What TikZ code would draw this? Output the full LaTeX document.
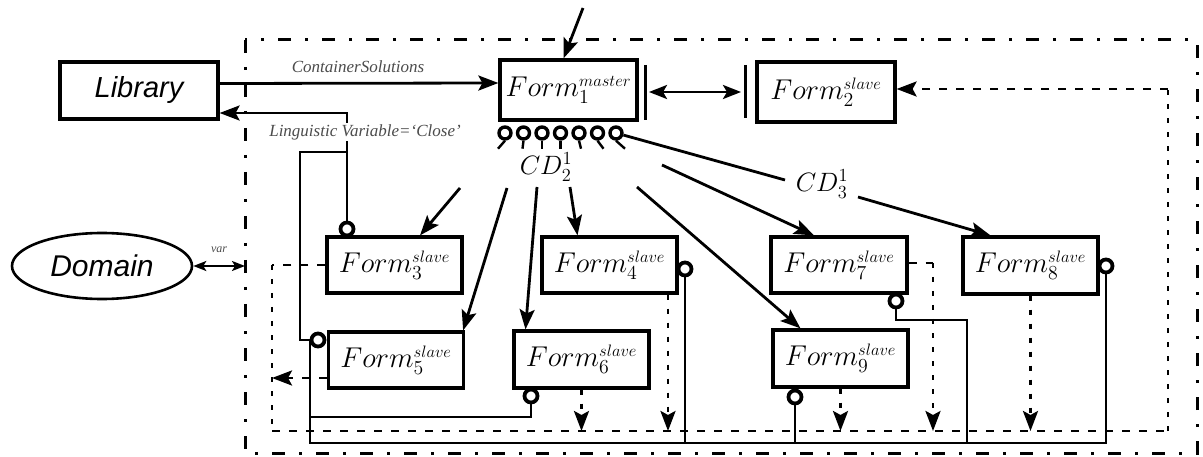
\documentclass[tikz,border=0pt]{standalone}
\usepackage{fontspec}
\usetikzlibrary{arrows.meta,calc,shapes.geometric}
\newfontfamily\arialf{Liberation Sans}
\newfontfamily\timesf{Liberation Serif}
\newcommand\formlab[2]{\fontsize{20.74}{24}\selectfont\scalebox{1.38}{$Form_{#1}^{\scriptscriptstyle #2}$}}
\newcommand\cdlab[2]{\fontsize{20.74}{24}\selectfont\scalebox{1.28}{$CD_{#1}^{#2}$}}
\begin{document}
\begin{tikzpicture}[x=1pt,y=-1pt,
  box/.style={draw,line width=3.2pt,inner sep=0pt},
  fbox/.style={box,minimum width=135pt,minimum height=56pt},
  ln/.style={line width=2.8pt},
  tip/.style={-{Stealth[length=20pt,width=15pt,inset=4pt]}},
  arr/.style={ln,tip},
  darr/.style={ln,{Stealth[length=18pt,width=14pt,inset=4pt]}-{Stealth[length=18pt,width=14pt,inset=4pt]}},
  sdarr/.style={line width=2pt,{Stealth[length=13pt,width=10pt,inset=3pt]}-{Stealth[length=13pt,width=10pt,inset=3pt]}},
  bus/.style={line width=2.8pt,dash pattern=on 8pt off 9pt},
  dotl/.style={line width=2.8pt,dash pattern=on 5pt off 9pt},
  oport/.style={circle,draw,line width=3.8pt,fill=white,minimum size=13pt,inner sep=0pt},
  frame/.style={line width=3pt,dash pattern=on 13pt off 14pt on 3pt off 14pt},
  lab/.style={font=\timesf\itshape\fontsize{17}{18}\selectfont,text=black!70}
]
\useasboundingbox (0,0) rectangle (1203,457);
\fill[white] (0,0) rectangle (1203,457);
% outer frame
\draw[frame] (245,40) rectangle (1197,453);
% nodes
\node[box,minimum width=158pt,minimum height=57pt,font=\arialf\itshape\fontsize{29}{30}\selectfont] (lib) at (139,90.5) {Library};
\node[draw,ellipse,line width=2.6pt,minimum width=180pt,minimum height=66pt,inner sep=0pt,font=\arialf\itshape\fontsize{30}{30}\selectfont] (dom) at (102,266) {Domain};
\node[fbox,minimum width=137pt,minimum height=60pt] (f1) at (568.5,90) {\formlab{1}{master}};
\node[fbox,minimum width=138pt,minimum height=60pt] (f2) at (826,92) {\formlab{2}{slave}};
\node[fbox] (f3) at (394.5,265) {\formlab{3}{slave}};
\node[fbox] (f4) at (609.5,265) {\formlab{4}{slave}};
\node[fbox] (f5) at (396,360) {\formlab{5}{slave}};
\node[fbox,minimum height=57pt] (f6) at (581.5,359.5) {\formlab{6}{slave}};
\node[fbox,minimum width=136pt] (f7) at (839,265) {\formlab{7}{slave}};
\node[fbox,minimum height=57pt] (f8) at (1030.5,265.5) {\formlab{8}{slave}};
\node[fbox,minimum height=57pt] (f9) at (840.5,358.5) {\formlab{9}{slave}};
% labels
\node[lab] (cs) at (358,67) {ContainerSolutions};
\node[font=\timesf\itshape\fontsize{12}{12}\selectfont,text=black!70] (var) at (219,250) {var};
\node (cd2) at (546,167) {\cdlab{2}{1}};
\node (cd3) at (822,184) {\cdlab{3}{1}};
% output ports
\node[oport] (d3) at (347,229) {};
\node[oport] (d4) at (685,269) {};
\node[oport] (d5) at (318,340) {};
\node[oport] (d6) at (531,396) {};
\node[oport] (d7) at (896,301) {};
\node[oport] (d8) at (1106,266) {};
\node[oport] (d9) at (795,397) {};
% plugs under Form1
\foreach \i/\dx in {0/-7,1/-1,2/0,3/0,4/2,5/6,6/9}{
  \node[oport,line width=3.4pt,minimum size=12pt] (p\i) at ({505+\i*18.5},133) {};
  \draw[line width=2.4pt] (p\i.south) -- ++(\dx,8);
}
% Library <-> Form1
\draw[arr] ([yshift=7pt]lib.east) -- ([yshift=7pt]f1.west);
% return lines to Library
\draw[arr] (d3) |- ([yshift=-22.5pt]lib.east);
\node[lab,fill=white,inner sep=1pt] (lv) at (365,132) {Linguistic Variable=‘Close’};
\coordinate (j1) at (300,340);
\coordinate (j2) at (300,152);
\coordinate (j3) at (347,152);
\draw[ln] (d5) -- (j1) -- (j2) -- (j3);
\coordinate (ybot) at (0,443);
\coordinate (k1) at (310,340);
\coordinate (k2) at (310,443);
\coordinate (k3) at (310,417);
\draw[ln] (k1) -- (k2) -| (d8);
\draw[ln] (d6) |- (k3);
\draw[ln] (d4) -- (d4 |- ybot);
\draw[ln] (d9) -- (d9 |- ybot);
\coordinate (m1) at (967,320);
\draw[ln] (d7) |- (m1) -- (m1 |- ybot);
% top incoming arrow
\coordinate (top) at (583,8);
\draw[arr] (top) -- ([xshift=-5pt]f1.north);
% bars and double arrow
\coordinate (b1) at (649,92);
\coordinate (b2) at (741,92);
\draw[line width=3pt] (645,65) -- (645,120);
\draw[line width=3pt] (745,65) -- (745,118);
\draw[darr] (b1) -- (b2);
% Domain var
\coordinate (fl) at (245,266);
\draw[sdarr] (dom) -- (fl);
% CD arrows
\coordinate (c3) at (460,188);
\coordinate (c5) at (507,188);
\coordinate (c6) at (537,187);
\coordinate (c4) at (570,187);
\coordinate (c9) at (637,187);
\coordinate (c7) at (662,165);
\coordinate (e3a) at (785,180);
\coordinate (e3b) at (858,197);
\draw[arr] (c3) -- ([xshift=25.5pt]f3.north);
\draw[arr] (c5) -- ([xshift=-2pt]f5.north east);
\draw[arr] (c6) -- ([xshift=-56pt]f6.north);
\draw[arr] (c4) -- ([xshift=-32pt]f4.north);
\draw[arr] (c9) -- ([xshift=-40pt]f9.north);
\draw[arr] (c7) -- ([xshift=-25pt]f7.north);
\draw[ln] (p6) -- (e3a);
\draw[arr] (e3b) -- ([xshift=-40pt]f8.north);
% dashed feedback bus
\coordinate (bl1) at (272,265);
\coordinate (bl2) at (272,431);
\coordinate (br2) at (1168,431);
\coordinate (br1) at (1168,89);
\draw[bus] (f3.west) -- (bl1);
\draw[dotl] (bl1) -- (bl2);
\draw[bus] (bl2) -- (br2);
\draw[dotl] (br2) -- (br1);
\draw[bus,tip] (br1) -- (f2.east |- br1);
\coordinate (a5) at (272,378);
\draw[bus,tip] ([yshift=-18pt]f5.west) -- (a5);
\coordinate (t4) at ([xshift=58.5pt]f4.south);
\draw[dotl,tip] (t4) -- (t4 |- bl2);
\coordinate (t6) at (f6.south);
\draw[dotl,tip] (t6) -- (t6 |- bl2);
\coordinate (t9) at (f9.south);
\draw[dotl,tip] (t9) -- (t9 |- bl2);
\coordinate (t8) at (f8.south);
\draw[dotl,tip] (t8) -- (t8 |- bl2);
\coordinate (t7) at (933,263);
\draw[bus] ([yshift=2pt]f7.east) -- (t7);
\draw[dotl,tip] (t7) -- (t7 |- bl2);
\end{tikzpicture}
\end{document}
